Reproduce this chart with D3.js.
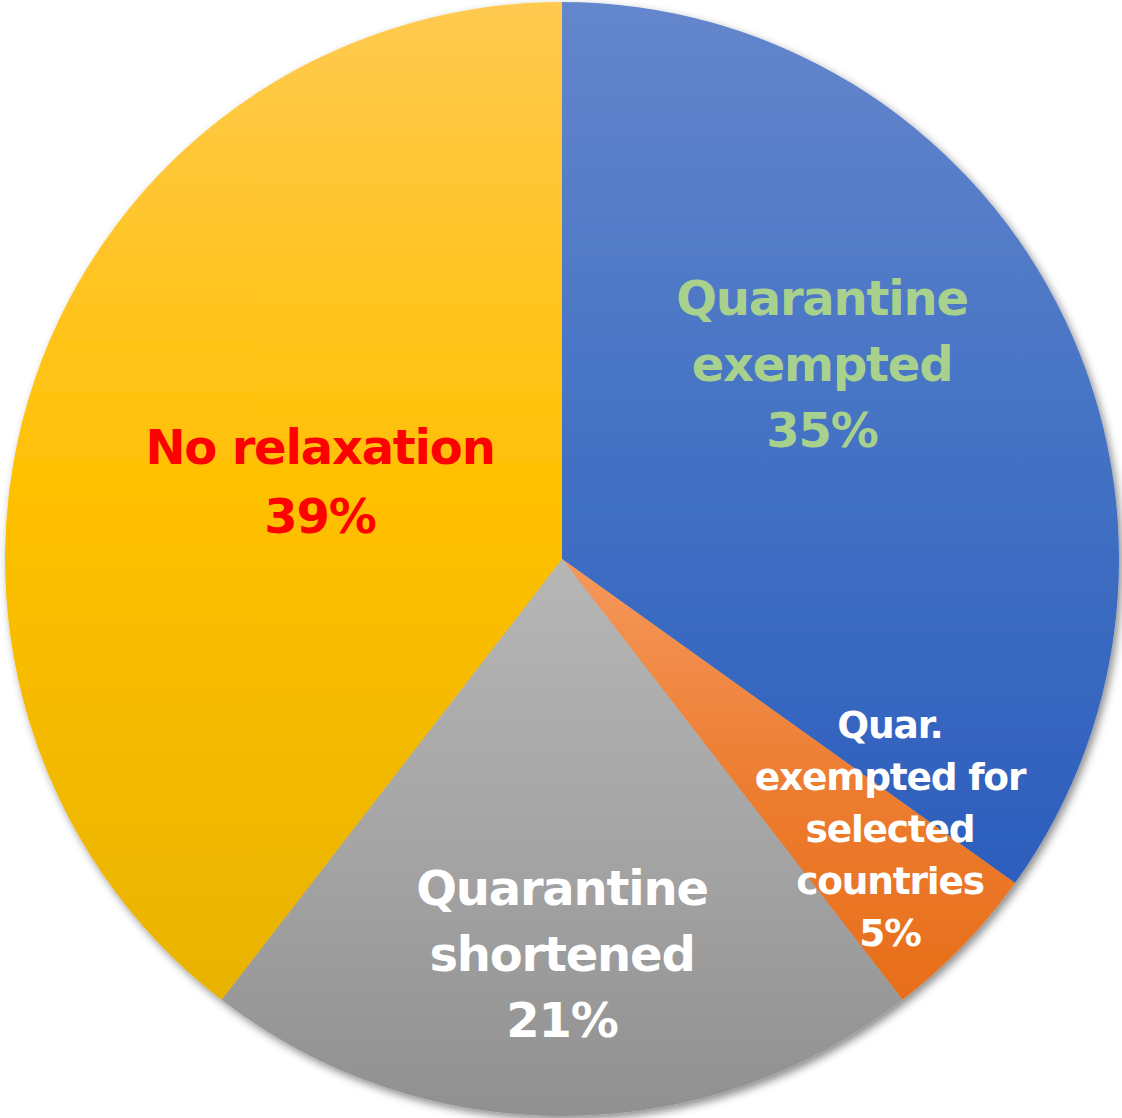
<!DOCTYPE html>
<html><head><meta charset="utf-8">
<script src="https://cdn.jsdelivr.net/npm/d3@7/dist/d3.min.js"></script>
<style>html,body{margin:0;padding:0;background:#fff;}svg{display:block;}</style>
</head><body>
<script>
const categories = ["Quarantine exempted", "Quar. exempted for selected countries", "Quarantine shortened", "No relaxation"];
const values = [15, 2, 9, 17];
const percentLabels = ["35%", "5%", "21%", "39%"];
const labelLines = [["Quarantine", "exempted"], ["Quar.", "exempted for", "selected", "countries"], ["Quarantine", "shortened"], ["No relaxation"]];

const W = 1122, H = 1118;
const cx = 562, cy = 559, R = 557;
const gradTop = ["#6486cc", "#f5985c", "#b6b6b6", "#ffca50"];
const gradMid = ["#4472c4", "#ed7d31", "#a5a5a5", "#ffc000"];
const gradBot = ["#2c5ebd", "#e86e1a", "#909090", "#e8b300"];
const textColors = ["#a9d18e", "#ffffff", "#ffffff", "#ff0000"];
const fontSizes = [48, 37.5, 48, 48];
const lineH = [66, 52, 66, 69];
const labelPos = [[822, 298], [890, 725], [562, 888], [320, 447]];

const svg = d3.select("body").append("svg").attr("width", W).attr("height", H);
const defs = svg.append("defs");
const f = defs.append("filter").attr("id", "sh").attr("x", "-10%").attr("y", "-10%").attr("width", "120%").attr("height", "120%");
f.append("feDropShadow").attr("dx", 3).attr("dy", 4).attr("stdDeviation", 4).attr("flood-color", "#000").attr("flood-opacity", 0.45);

values.forEach((v, i) => {
  const g = defs.append("linearGradient").attr("id", "g" + i).attr("x1", 0).attr("y1", 0).attr("x2", 0).attr("y2", 1);
  g.append("stop").attr("offset", "0%").attr("stop-color", gradTop[i]);
  g.append("stop").attr("offset", "50%").attr("stop-color", gradMid[i]);
  g.append("stop").attr("offset", "100%").attr("stop-color", gradBot[i]);
});

const pie = d3.pie().sort(null).value(d => d);
const arcs = pie(values);
const arc = d3.arc().innerRadius(0).outerRadius(R);

const root = svg.append("g").attr("transform", `translate(${cx},${cy})`);
root.append("g").attr("filter", "url(#sh)")
  .selectAll("path").data(arcs).join("path")
  .attr("d", arc)
  .attr("fill", (d, i) => `url(#g${i})`);

const font = "'DejaVu Sans', sans-serif";
arcs.forEach((d, i) => {
  const lines = labelLines[i].concat([percentLabels[i]]);
  const [lx, ly] = labelPos[i];
  const t = svg.append("text")
    .attr("text-anchor", "middle")
    .attr("font-family", font)
    .attr("font-weight", "bold")
    .attr("font-size", fontSizes[i])
    .attr("fill", textColors[i])
    .attr("letter-spacing", -1.2);
  lines.forEach((s, k) => {
    t.append("tspan").attr("x", lx).attr("y", ly + k * lineH[i]).attr("dy", "0.35em").text(s);
  });
});
</script>
</body></html>
